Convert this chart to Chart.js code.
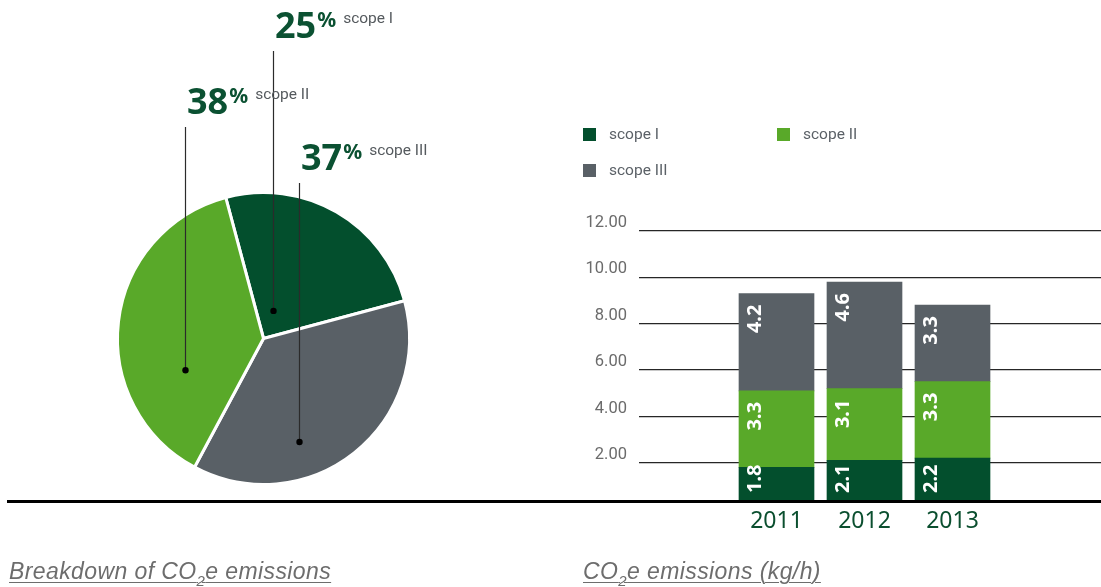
<!DOCTYPE html>
<html>
<head>
<meta charset="utf-8">
<title>CO2e emissions</title>
<script src="https://cdn.jsdelivr.net/npm/chart.js@4/dist/chart.umd.min.js"></script>
<style>
  html, body { margin: 0; padding: 0; background: #fff; }
  body { width: 1101px; height: 587px; position: relative; overflow: hidden; font-family: Roboto, 'Noto Sans', sans-serif; }
  #pieBox { position: absolute; left: 0; top: 0; width: 560px; height: 587px; }
  #barBox { position: absolute; left: 560px; top: 0; width: 541px; height: 587px; }
  #baseline { position: absolute; left: 7px; right: 0; top: 500px; height: 3px; background: #000; z-index: 5; }
  .caption { position: absolute; top: 556px; font-family: 'Liberation Sans', sans-serif;
             font-style: italic; font-size: 23px; letter-spacing: 0.4px; color: #6d6d6d; text-decoration: underline;
             text-decoration-thickness: 1px; text-underline-offset: 3px; white-space: nowrap; line-height: 30px; }
  .caption sub { font-size: 15px; vertical-align: -7px; line-height: 0; }
  #legend { position: absolute; left: 583px; top: 124px; width: 400px; }
  .item { position: absolute; display: flex; align-items: center; height: 20px; font-size: 15.5px; color: #5b6167; white-space: nowrap; }
  .swatch { width: 13px; height: 13px; margin-right: 13px; }
</style>
</head>
<body>
<div id="pieBox"><canvas id="pie" width="560" height="587"></canvas></div>
<div id="barBox"><canvas id="bar" width="541" height="587"></canvas></div>
<div id="baseline"></div>
<div id="legend"></div>
<div class="caption" style="left:9px">Breakdown of CO<sub>2</sub>e emissions</div>
<div class="caption" style="left:583px">CO<sub>2</sub>e emissions (kg/h)</div>

<script>
// ---- data ----
const pieLabels = ['scope I', 'scope III', 'scope II'];
const pieValues = [25, 37, 38];

const years = [2011, 2012, 2013];
const scope1 = [1.8, 2.1, 2.2];
const scope2 = [3.3, 3.1, 3.3];
const scope3 = [4.2, 4.6, 3.3];
const seriesNames = ['scope I', 'scope II', 'scope III'];
const yTicks = [2, 4, 6, 8, 10, 12];

// ---- palette ----
const DARK_GREEN = '#034f2d';
const LIGHT_GREEN = '#59a929';
const SLATE = '#596066';
const colorFor = { 'scope I': DARK_GREEN, 'scope II': LIGHT_GREEN, 'scope III': SLATE };

// Callouts: a dot inside each slice with a vertical leader up to the percentage label
const calloutPlugin = {
  id: 'callouts',
  afterDraw(chart, args, opts) {
    const ctx = chart.ctx;
    const meta = chart.getDatasetMeta(0);
    const values = chart.data.datasets[0].data;
    meta.data.forEach((arc, i) => {
      const spot = opts.spots[i];
      const a = spot.angle * Math.PI / 180;
      const r = arc.outerRadius * spot.frac;
      const px = Math.round(arc.x + r * Math.sin(a)) + 0.5;
      const py = arc.y - r * Math.cos(a);
      ctx.save();
      ctx.strokeStyle = '#2b2b2b';
      ctx.lineWidth = 1.2;
      ctx.beginPath();
      ctx.moveTo(px, py);
      ctx.lineTo(px, spot.top);
      ctx.stroke();
      ctx.fillStyle = '#000';
      ctx.beginPath();
      ctx.arc(px, py, 3.2, 0, Math.PI * 2);
      ctx.fill();

      const base = spot.top - 13;
      const tx = px + 1.5;
      ctx.textBaseline = 'alphabetic';
      ctx.textAlign = 'left';
      ctx.fillStyle = '#0b5132';
      ctx.font = 'bold 36px "Noto Sans"';
      const num = String(values[i]);
      ctx.fillText(num, tx, base);
      const w1 = ctx.measureText(num).width;
      ctx.font = 'bold 21px "Noto Sans"';
      ctx.fillText('%', tx + w1 + 1, base - 11);
      const w2 = ctx.measureText('%').width;
      ctx.fillStyle = '#555a5e';
      ctx.font = '15.5px Roboto';
      ctx.fillText(chart.data.labels[i], tx + w1 + w2 + 8, base - 15);
      ctx.restore();
    });
  }
};

new Chart(document.getElementById('pie'), {
  type: 'pie',
  data: {
    labels: pieLabels,
    datasets: [{
      data: pieValues,
      backgroundColor: pieLabels.map(l => colorFor[l]),
      borderColor: '#fff',
      borderWidth: 3
    }]
  },
  options: {
    responsive: false,
    animation: false,
    rotation: -15,
    layout: { padding: { left: 116, right: 149, top: 191, bottom: 101 } },
    plugins: {
      legend: { display: false },
      tooltip: { enabled: false },
      callouts: {
        spots: [
          { angle: 19, frac: 0.2, top: 51 },
          { angle: 161, frac: 0.75, top: 183 },
          { angle: 248, frac: 0.58, top: 127 }
        ]
      }
    }
  },
  plugins: [calloutPlugin]
});

// Rotated value labels inside each stacked segment
const segmentLabels = {
  id: 'segmentLabels',
  afterDatasetsDraw(chart) {
    const { ctx, chartArea } = chart;
    ctx.save();
    ctx.beginPath();
    ctx.rect(chartArea.left, chartArea.top, chartArea.right - chartArea.left, chartArea.bottom - chartArea.top);
    ctx.clip();
    ctx.font = 'bold 20px "Noto Sans"';
    ctx.fillStyle = '#fff';
    ctx.textBaseline = 'middle';
    chart.data.datasets.forEach((ds, di) => {
      chart.getDatasetMeta(di).data.forEach((bar, i) => {
        const txt = ds.data[i].y.toFixed(1);
        const x = bar.x - bar.width / 2 + 16;
        ctx.save();
        if (di === 0) {
          ctx.translate(x, chartArea.bottom - 8);
          ctx.rotate(-Math.PI / 2);
          ctx.textAlign = 'left';
        } else {
          ctx.translate(x, bar.y + 11);
          ctx.rotate(-Math.PI / 2);
          ctx.textAlign = 'right';
        }
        ctx.fillText(txt, 0, 0);
        ctx.restore();
      });
    });
    ctx.restore();
  }
};

const seriesValues = [scope1, scope2, scope3];
const barChart = new Chart(document.getElementById('bar'), {
  type: 'bar',
  data: {
    datasets: seriesNames.map((name, k) => ({
      label: name,
      data: years.map((yr, i) => ({ x: yr, y: seriesValues[k][i] })),
      backgroundColor: colorFor[name],
      borderWidth: 0,
      barThickness: 75
    }))
  },
  options: {
    responsive: false,
    animation: false,
    layout: { padding: { top: 231, left: 0, right: 0, bottom: 0 } },
    plugins: { legend: { display: false }, tooltip: { enabled: false } },
    scales: {
      x: {
        type: 'linear',
        stacked: true,
        offset: false,
        min: 2009.4375,
        max: 2014.6875,
        afterBuildTicks: s => { s.ticks = years.map(v => ({ value: v })); },
        afterFit: s => { s.height = 86; },
        grid: { display: false, drawTicks: false, offset: false },
        border: { display: false },
        ticks: { padding: 7, color: '#0b4f2f', font: { family: 'Noto Sans', size: 23 }, callback: v => String(v), maxRotation: 0 }
      },
      y: {
        stacked: true,
        min: 0.35,
        max: 12,
        afterBuildTicks: s => { s.ticks = yTicks.map(v => ({ value: v })); },
        afterFit: s => { s.width = 79; },
        grid: { color: '#262626', lineWidth: 1.2, drawTicks: false },
        border: { display: false },
        ticks: { padding: 12, labelOffset: -8, color: '#6b6b6b', font: { family: 'Roboto', size: 16.5 }, callback: v => Number(v).toFixed(2) }
      }
    }
  },
  plugins: [segmentLabels]
});

// Legend laid out in two columns from the bar series
const legend = document.getElementById('legend');
barChart.data.datasets.forEach((ds, i) => {
  const item = document.createElement('div');
  item.className = 'item';
  item.style.left = (i % 2) * 194 + 'px';
  item.style.top = Math.floor(i / 2) * 36 + 'px';
  const sw = document.createElement('span');
  sw.className = 'swatch';
  sw.style.background = ds.backgroundColor;
  item.appendChild(sw);
  item.appendChild(document.createTextNode(ds.label));
  legend.appendChild(item);
});
</script>
</body>
</html>
